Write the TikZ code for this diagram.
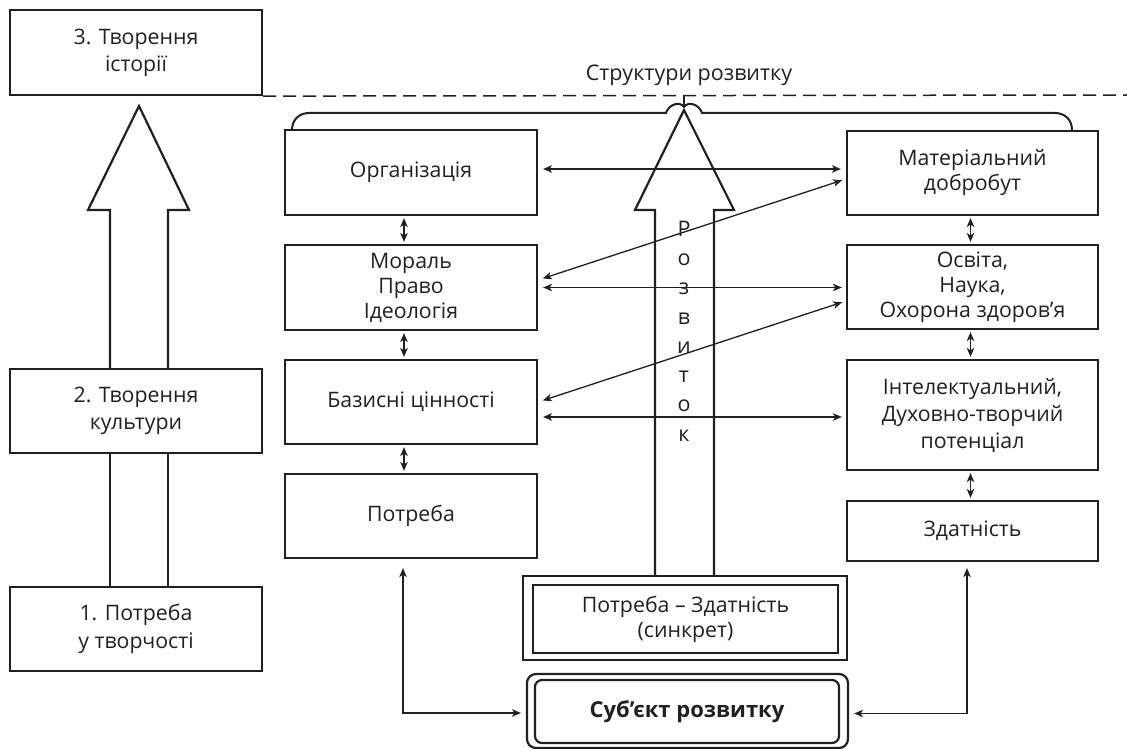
\documentclass[tikz,border=0pt]{standalone}
\usepackage{fontspec}
\setmainfont{Open Sans}
\usetikzlibrary{arrows.meta,calc}
\definecolor{ink}{HTML}{231F20}
\begin{document}
\begin{tikzpicture}[x=1pt,y=-1pt,
  >={Stealth[length=9pt,width=7.5pt,inset=2.5pt]},
  box/.style={draw=ink, line width=2.2pt, minimum width=252pt, minimum height=85pt,
    align=center, inner sep=0pt, text=ink, font=\fontsize{21.3}{25}\selectfont},
  dbl/.style={<->, draw=ink, line width=1.3pt},
  bigarrow/.style={draw=ink, line width=2.2pt, line join=miter},
  brace/.style={draw=ink, line width=2pt},
  label/.style={text=ink, font=\fontsize{21.5}{25}\selectfont, inner sep=0pt}]
\useasboundingbox (0,0) rectangle (1127,749);

% left column
\node[box, font=\fontsize{21.3}{27}\selectfont] (b3) at (136,52.5) {3. Творення\\історії};
\node[box, minimum height=84pt, font=\fontsize{21.3}{27}\selectfont] (b2) at (136,411) {2. Творення\\культури};
\node[box, minimum height=84pt, font=\fontsize{21.3}{28}\selectfont] (b1) at (136,629) {1. Потреба\\у творчості};

% middle column
\node[box] (org) at (411,172.5) {Організація};
\node[box] (mor) at (411,287.5) {Мораль\\Право\\Ідеологія};
\node[box, minimum height=84pt] (baz) at (411,402) {Базисні цінності};
\node[box, minimum height=84pt] (pot) at (411,516) {Потреба};

% right column
\node[box, minimum width=251pt, minimum height=84pt] (mat) at (972.5,173) {Матеріальний\\добробут};
\node[box, minimum width=251pt, minimum height=84pt] (osv) at (972.5,287) {Освіта,\\Наука,\\Охорона здоров’я};
\node[box, minimum width=251pt, minimum height=110pt, font=\fontsize{21.3}{27}\selectfont] (int) at (972.5,415) {Інтелектуальний,\\Духовно-творчий\\потенціал};
\node[box, minimum width=251pt, minimum height=60pt] (zd) at (972.5,531) {Здатність};

% bottom centre
\node[box, minimum width=324pt, minimum height=84pt] (synout) at (685,618) {};
\node[box, minimum width=305pt, minimum height=68pt] (syn) at (685.5,619) {Потреба – Здатність\\(синкрет)};
\node[box, rounded corners=9pt, minimum width=321pt, minimum height=74pt] (subout) at (687.5,711) {};
\node[box, rounded corners=7pt, minimum width=304pt, minimum height=63pt, font=\fontsize{22}{25}\selectfont\bfseries] (sub) at (687,711.5) {Суб’єкт розвитку};

% labels
\node[label] (struct) at (689,75) {Структури розвитку};
\node[label, align=center, font=\fontsize{21.5}{29.3}\selectfont] (rozv) at (684,331) {Р\\о\\з\\в\\и\\т\\о\\к};

% dashed line
\coordinate (dashend) at (1127,95);
\draw[draw=ink, line width=1.5pt, dash pattern=on 13pt off 7pt] (b3.south east) -- (dashend);

% brace
\draw[brace] (292,130) .. controls (292,120) and (299,113) .. (309,113) -- (666,113)
  .. controls (669,104) and (680,101) .. (684,107)
  .. controls (688,101) and (699,104) .. (702,113) -- (1055,113)
  .. controls (1065,113) and (1072,120) .. (1072,130);
\draw[brace] (684,107) -- (684,95);

% left big arrow
\draw[bigarrow] (110,369) -- (110,210) -- (88,210) -- (139,106) -- (189,210) -- (168,210) -- (168,369);
\draw[bigarrow] (110,453) -- (110,587);
\draw[bigarrow] (168,453) -- (168,587);

% central big arrow
\draw[bigarrow] (655,576) -- (655,210) -- (635,210) -- (684,110) -- (734,210) -- (714,210) -- (714,576);

% horizontal and diagonal connectors
\draw[dbl, shorten <=5pt, shorten >=5pt] ([yshift=3.5pt]org.east) -- ([yshift=4pt]mat.west);
\draw[dbl, shorten <=5pt, shorten >=4pt] ([yshift=7.5pt]mor.east) -- ([yshift=-6pt]mat.west);
\draw[dbl, shorten <=5pt, shorten >=4pt] (mor.east) -- (mor.east -| osv.west);
\draw[dbl, shorten <=5pt, shorten >=4pt] (baz.east) -- ([yshift=-14pt]osv.west);
\draw[dbl, shorten <=5pt, shorten >=4pt] ([yshift=-15pt]baz.east) -- ([yshift=-15pt]baz.east -| int.west);

% vertical small arrows
\draw[dbl, shorten <=2pt, shorten >=2pt] ([xshift=-7pt]org.south) -- ([xshift=-7pt]mor.north);
\draw[dbl, shorten <=2pt, shorten >=2pt] ([xshift=-7pt]mor.south) -- ([xshift=-7pt]baz.north);
\draw[dbl, shorten <=2pt, shorten >=2pt] ([xshift=-7pt]baz.south) -- ([xshift=-7pt]pot.north);
\draw[dbl, shorten <=2pt, shorten >=2pt] ([xshift=-2pt]mat.south) -- ([xshift=-2pt]osv.north);
\draw[dbl, shorten <=2pt, shorten >=2pt] ([xshift=-2pt]osv.south) -- ([xshift=-2pt]int.north);
\draw[dbl, shorten <=2pt, shorten >=2pt] ([xshift=-2pt]int.south) -- ([xshift=-2pt]zd.north);

% bottom connectors
\draw[dbl, shorten <=5pt, shorten >=9pt] ([yshift=-2pt]subout.west) -| ([xshift=-8pt]pot.south);
\draw[dbl, shorten <=5pt, shorten >=6pt] ([yshift=-2.5pt]subout.east) -| ([xshift=-5.5pt]zd.south);
\end{tikzpicture}
\end{document}
